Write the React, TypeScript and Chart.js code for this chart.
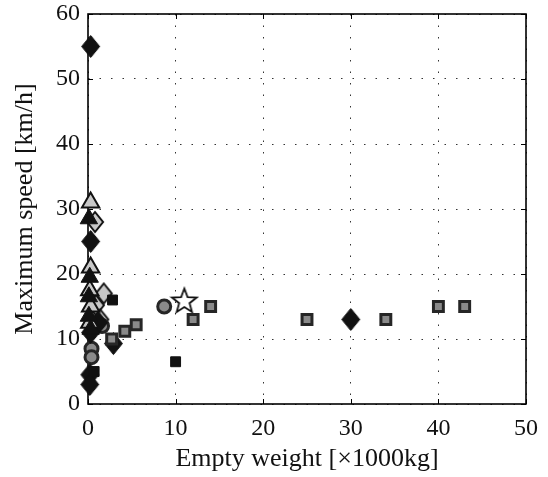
import React, { useEffect, useRef } from "react";
import { Chart, registerables } from "chart.js";

Chart.register(...registerables);

type P = { x: number; y: number };

const xTicks = [0, 10, 20, 30, 40, 50];
const yTicks = [0, 10, 20, 30, 40, 50, 60];

const blackDiamonds: P[] = [
  { x: 0.3, y: 55 }, { x: 0.3, y: 25 }, { x: 1.2, y: 12.5 }, { x: 0.3, y: 11 },
  { x: 2.9, y: 9.3 }, { x: 0.2, y: 4.5 }, { x: 0.2, y: 3 }, { x: 30, y: 13 },
];
const blackTriangles: P[] = [
  { x: 0.1, y: 28.5 }, { x: 0.2, y: 19.5 }, { x: 0.1, y: 16.5 }, { x: 0.1, y: 13.5 }, { x: 0.3, y: 11.5 },
];
const lightTriangles: P[] = [
  { x: 0.3, y: 31 }, { x: 0.3, y: 21 }, { x: 0.2, y: 17.5 }, { x: 0.3, y: 15 }, { x: 0.2, y: 12.5 },
];
const blackSquares: P[] = [
  { x: 2.8, y: 16 }, { x: 10, y: 6.5 }, { x: 0.7, y: 5 },
];
const lightDiamonds: P[] = [
  { x: 0.8, y: 28 }, { x: 1.8, y: 17 }, { x: 0.9, y: 15.2 }, { x: 1.4, y: 13 },
];
const grayCircles: P[] = [
  { x: 8.7, y: 15 }, { x: 1.6, y: 12 }, { x: 0.4, y: 8.5 }, { x: 0.4, y: 7.2 },
];
const graySquares: P[] = [
  { x: 2.7, y: 10 }, { x: 4.2, y: 11.2 }, { x: 5.5, y: 12.2 }, { x: 12, y: 13 },
  { x: 14, y: 15 }, { x: 25, y: 13 }, { x: 34, y: 13 }, { x: 40, y: 15 }, { x: 43, y: 15 },
];
const stars: P[] = [{ x: 11, y: 16 }];

function makeStar(r: number): HTMLCanvasElement {
  const c = document.createElement("canvas");
  const s = Math.ceil(r * 2 + 4);
  c.width = s;
  c.height = s;
  const ctx = c.getContext("2d")!;
  const cx = s / 2, cy = s / 2 + 1.5;
  ctx.beginPath();
  for (let i = 0; i < 10; i++) {
    const rr = i % 2 === 0 ? r : r * 0.42;
    const a = -Math.PI / 2 + (i * Math.PI) / 5;
    const px = cx + rr * Math.cos(a), py = cy + rr * Math.sin(a);
    if (i === 0) ctx.moveTo(px, py); else ctx.lineTo(px, py);
  }
  ctx.closePath();
  ctx.fillStyle = "#ffffff";
  ctx.fill();
  ctx.lineWidth = 1.8;
  ctx.strokeStyle = "#111";
  ctx.stroke();
  return c;
}

function makeDiamond(w: number, h: number, fill: string, stroke: string, lw: number): HTMLCanvasElement {
  const c = document.createElement("canvas");
  const cw = Math.ceil(w + lw + 2), ch = Math.ceil(h + lw + 2);
  c.width = cw;
  c.height = ch;
  const ctx = c.getContext("2d")!;
  const cx = cw / 2, cy = ch / 2;
  ctx.beginPath();
  ctx.moveTo(cx, cy - h / 2);
  ctx.lineTo(cx + w / 2, cy);
  ctx.lineTo(cx, cy + h / 2);
  ctx.lineTo(cx - w / 2, cy);
  ctx.closePath();
  ctx.fillStyle = fill;
  ctx.fill();
  ctx.lineWidth = lw;
  ctx.strokeStyle = stroke;
  ctx.lineJoin = "miter";
  ctx.stroke();
  return c;
}

const boxPlugin = {
  id: "boxPlugin",
  beforeDatasetsDraw(chart: any) {
    const { ctx, chartArea: a, scales } = chart;
    ctx.save();
    ctx.strokeStyle = "#000";
    ctx.lineWidth = 1;
    for (const v of xTicks) {
      const px = Math.round(scales.x.getPixelForValue(v)) + 0.5;
      ctx.beginPath();
      ctx.moveTo(px, a.bottom); ctx.lineTo(px, a.bottom - 5);
      ctx.moveTo(px, a.top); ctx.lineTo(px, a.top + 5);
      ctx.stroke();
    }
    for (const v of yTicks) {
      const py = Math.round(scales.y.getPixelForValue(v)) + 0.5;
      ctx.beginPath();
      ctx.moveTo(a.left, py); ctx.lineTo(a.left + 5, py);
      ctx.moveTo(a.right, py); ctx.lineTo(a.right - 5, py);
      ctx.stroke();
    }
    ctx.lineWidth = 1.6;
    ctx.strokeRect(a.left, a.top, a.right - a.left, a.bottom - a.top);
    ctx.restore();
  },
};

function zeroPad(s: any) {
  s.paddingTop = 0;
  s.paddingBottom = 0;
  s.paddingLeft = 0;
  s.paddingRight = 0;
}

export default function App() {
  const ref = useRef<HTMLCanvasElement | null>(null);
  useEffect(() => {
    document.body.style.margin = "0";
    const family = "'Liberation Serif', 'DejaVu Serif', serif";
    const tickFont = { family, size: 24 };
    const titleFont = { family, size: 26 };
    const dark = "#111111";
    const chart = new Chart(ref.current!, {
      type: "scatter",
      data: {
        datasets: [
          { label: "gs", data: graySquares, pointStyle: "rect", pointRadius: 7, pointBackgroundColor: "#8a8a8a", pointBorderColor: "#262626", pointBorderWidth: 3 },
          { label: "bs", data: blackSquares, pointStyle: "rect", pointRadius: 7, pointBackgroundColor: dark, pointBorderColor: dark, pointBorderWidth: 1 },
          { label: "bt", data: blackTriangles, pointStyle: "triangle", pointRadius: 10, pointBackgroundColor: dark, pointBorderColor: dark, pointBorderWidth: 1 },
          { label: "lt", data: lightTriangles, pointStyle: "triangle", pointRadius: 10, pointBackgroundColor: "#c8c8c8", pointBorderColor: dark, pointBorderWidth: 2 },
          { label: "bd", data: blackDiamonds, pointStyle: makeDiamond(18, 22, dark, dark, 1) as any, pointRadius: 11 },
          { label: "gc", data: grayCircles, pointStyle: "circle", pointRadius: 6.5, pointBackgroundColor: "#8a8a8a", pointBorderColor: "#262626", pointBorderWidth: 3 },
          { label: "ld", data: lightDiamonds, pointStyle: makeDiamond(16, 20, "#c8c8c8", dark, 2) as any, pointRadius: 11 },
          { label: "st", data: stars, pointStyle: makeStar(13) as any, pointRadius: 13 },
        ].map((d) => ({ ...d, clip: false })) as any,
      },
      options: {
        animation: false,
        responsive: false,
        events: [],
        layout: { padding: { top: 13, right: 22, left: 0, bottom: 0 } },
        plugins: { legend: { display: false }, tooltip: { enabled: false } },
        scales: {
          x: {
            type: "linear",
            min: 0,
            max: 50,
            afterFit: (s: any) => { s.height = 73; zeroPad(s); },
            afterBuildTicks: (s: any) => { s.ticks = xTicks.map((v) => ({ value: v })); },
            grid: { color: "#333", lineWidth: 1, drawTicks: false },
            border: { display: false, dash: [1.5, 10] },
            ticks: { font: tickFont, color: "#111", padding: 10, maxRotation: 0 },
            title: { display: true, text: "Empty weight [×1000kg]", font: titleFont, color: "#111", padding: { top: 2, bottom: 2 } },
          },
          y: {
            type: "linear",
            min: 0,
            max: 60,
            afterFit: (s: any) => { s.width = 88; zeroPad(s); },
            afterBuildTicks: (s: any) => { s.ticks = yTicks.map((v) => ({ value: v })); },
            grid: { color: "#333", lineWidth: 1, drawTicks: false },
            border: { display: false, dash: [1.5, 10] },
            ticks: { font: tickFont, color: "#111", padding: 8 },
            title: { display: true, text: "Maximum speed [km/h]", font: titleFont, color: "#111", padding: { top: 10, bottom: 10 } },
          },
        },
      },
      plugins: [boxPlugin],
    });
    return () => chart.destroy();
  }, []);
  return <canvas ref={ref} width={548} height={477} style={{ display: "block", width: 548, height: 477 }} />;
}
